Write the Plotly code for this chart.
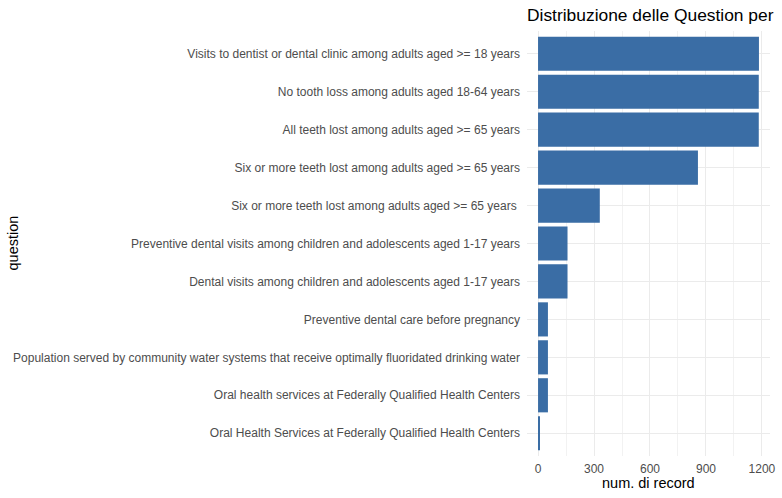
import plotly.graph_objects as go

# Questions listed top to bottom as they appear in the chart
QUESTIONS = [
    "Visits to dentist or dental clinic among adults aged >= 18 years",
    "No tooth loss among adults aged 18-64 years",
    "All teeth lost among adults aged >= 65 years",
    "Six or more teeth lost among adults aged >= 65 years",
    "Six or more teeth lost among adults aged >= 65 years ",
    "Preventive dental visits among children and adolescents aged 1-17 years",
    "Dental visits among children and adolescents aged 1-17 years",
    "Preventive dental care before pregnancy",
    "Population served by community water systems that receive optimally fluoridated drinking water",
    "Oral health services at Federally Qualified Health Centers",
    "Oral Health Services at Federally Qualified Health Centers",
]
COUNTS = [1184, 1183, 1183, 857, 331, 158, 158, 53, 53, 53, 6]
X_TICKS = [0, 300, 600, 900, 1200]

BAR_COLOR = "#3A6DA5"
FONT = "Liberation Sans, Arial, sans-serif"

fig = go.Figure(
    go.Bar(
        x=COUNTS,
        y=QUESTIONS,
        orientation="h",
        width=0.9,
        marker=dict(color=BAR_COLOR, line=dict(width=0)),
        hovertemplate="%{y}<br>%{x}<extra></extra>",
    )
)

xmax = max(COUNTS)
fig.update_layout(
    width=782,
    height=498,
    paper_bgcolor="white",
    plot_bgcolor="white",
    margin=dict(l=527, r=7, t=31, b=42),
    font=dict(family=FONT, color="#4D4D4D", size=12),
    showlegend=False,
    title=dict(
        text="Distribuzione delle Question per",
        font=dict(family=FONT, size=17.4, color="black"),
        x=527 / 782,
        xanchor="left",
        xref="container",
        y=1 - 15 / 498,
        yanchor="middle",
        yref="container",
    ),
    annotations=[
        dict(
            text="question",
            textangle=-90,
            xref="paper",
            yref="paper",
            x=0,
            xshift=12 - 527,
            y=0.5,
            xanchor="center",
            yanchor="middle",
            showarrow=False,
            font=dict(family=FONT, size=14.5, color="black"),
        ),
        dict(
            text="num. di record",
            xref="paper",
            yref="paper",
            x=0.5,
            y=-27 / 425,
            xanchor="center",
            yanchor="middle",
            showarrow=False,
            font=dict(family=FONT, size=14.5, color="black"),
        ),
    ],
)

fig.update_xaxes(
    range=[-0.05 * xmax, 1.05 * xmax],
    tickvals=X_TICKS,
    ticks="",
    ticklabelstandoff=4,
    showgrid=True,
    gridcolor="#EBEBEB",
    gridwidth=1.1,
    minor=dict(tickvals=[150, 450, 750, 1050], showgrid=True, gridcolor="#F2F2F2", gridwidth=0.6),
    zeroline=False,
    showline=False,
    tickfont=dict(size=12, color="#4D4D4D"),
)

fig.update_yaxes(
    categoryorder="array",
    categoryarray=QUESTIONS[::-1],
    range=[-0.6, len(QUESTIONS) - 0.4],
    ticks="",
    ticklabelstandoff=6,
    showgrid=True,
    gridcolor="#EBEBEB",
    gridwidth=1.1,
    zeroline=False,
    showline=False,
    automargin=False,
    tickfont=dict(size=12, color="#4D4D4D"),
)

# drop the default page margin so the figure fills the window like the reference
fig.write_html(
    "out.html",
    config={"displayModeBar": False},
    post_script="document.body.style.margin='0';",
)
